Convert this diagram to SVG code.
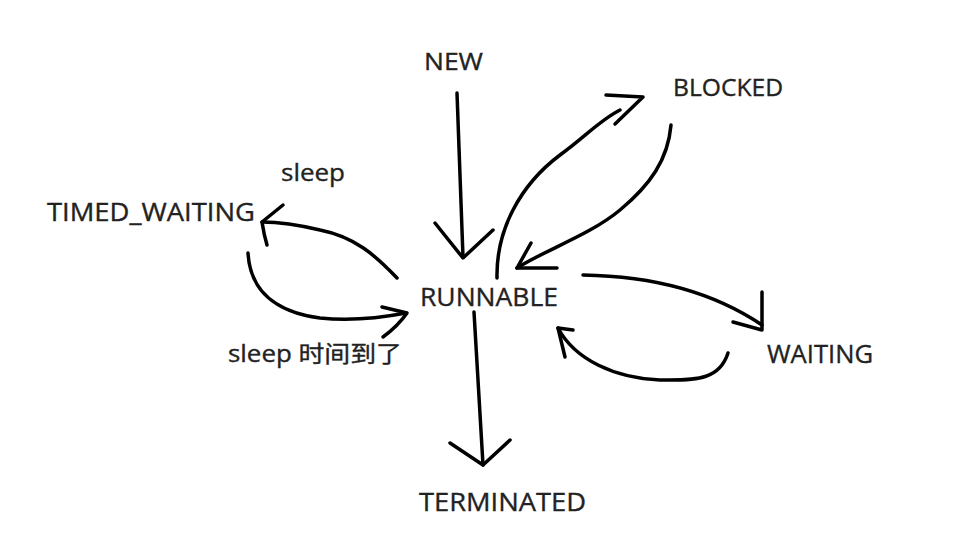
<svg xmlns="http://www.w3.org/2000/svg" width="969" height="544" viewBox="0 0 969 544">
<style>
.lbl{font-family:"Open Sans","Noto Sans","Noto Sans CJK SC",sans-serif;fill:#222;stroke:#222;stroke-width:0.35}
.c{fill:none;stroke:#000;stroke-width:3.5;stroke-linecap:round;stroke-linejoin:round}
</style>
<rect width="969" height="544" fill="#fff"/>
<g id="connectors">
  <g id="new-runnable"><path class="c" d="M457,93 L463,257"/><path class="c" d="M435,223 L463,258 L493,230"/></g>
  <g id="runnable-terminated"><path class="c" d="M474,312 L483,465"/><path class="c" d="M450,443 L483,465 L510,440"/></g>
  <g id="runnable-blocked"><path class="c" d="M497,278 C496,230 520,185 560,155 C585,137 600,120 620,110"/><path class="c" d="M606,95 L643,97 L615,124"/></g>
  <g id="blocked-runnable"><path class="c" d="M671,125 C668,160 650,185 620,210 C590,235 545,250 517,268"/><path class="c" d="M531,243 L517,268 L557,268"/></g>
  <g id="runnable-waiting"><path class="c" d="M583,275 C650,276 710,290 762,325"/><path class="c" d="M762,292 L762,330 L733,322"/></g>
  <g id="waiting-runnable"><path class="c" d="M728,353 C720,378 700,381 660,380 C615,378 575,360 558,328"/><path class="c" d="M573,330 L558,328 L565,357"/></g>
  <g id="runnable-timed"><path class="c" d="M397,278 C375,255 355,237 320,230 C295,224 280,222 262,222"/><path class="c" d="M283,205 L262,222 Q264,235 267,245"/></g>
  <g id="timed-runnable"><path class="c" d="M248,253 C250,290 275,312 320,318 C350,321 380,318 406,313"/><path class="c" d="M382,307 L407,313 Q398,326 383,337"/></g>
</g>
<g id="NEW"><text class="lbl" x="424" y="70" font-size="24" textLength="59" lengthAdjust="spacingAndGlyphs">NEW</text></g>
<g id="BLOCKED"><text class="lbl" x="673" y="96" font-size="24" textLength="110" lengthAdjust="spacingAndGlyphs">BLOCKED</text></g>
<g id="TIMED_WAITING"><text class="lbl" x="47" y="221" font-size="25" textLength="208" lengthAdjust="spacingAndGlyphs">TIMED_WAITING</text></g>
<g id="RUNNABLE"><text class="lbl" x="420" y="306" font-size="26" textLength="138" lengthAdjust="spacingAndGlyphs">RUNNABLE</text></g>
<g id="WAITING"><text class="lbl" x="767" y="363" font-size="26" textLength="106" lengthAdjust="spacingAndGlyphs">WAITING</text></g>
<g id="TERMINATED"><text class="lbl" x="419" y="511" font-size="26" textLength="167" lengthAdjust="spacingAndGlyphs">TERMINATED</text></g>
<g id="labels">
  <text class="lbl" x="281" y="181" font-size="24" textLength="64" lengthAdjust="spacingAndGlyphs">sleep</text>
  <text class="lbl" x="228" y="362" font-size="23" textLength="174" lengthAdjust="spacingAndGlyphs">sleep 时间到了</text>
</g>
</svg>
